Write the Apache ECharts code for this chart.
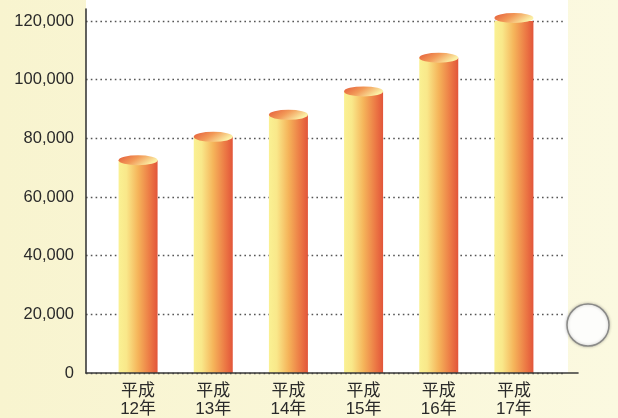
<!DOCTYPE html>
<html>
<head>
<meta charset="utf-8">
<script src="https://cdn.jsdelivr.net/npm/echarts@6/dist/echarts.min.js"></script>
<style>
html,body{margin:0;padding:0;background:#f9f6d6;}
#chart{width:618px;height:418px;}
</style>
</head>
<body>
<div id="chart"></div>
<script>
var categories = ['平成\n12年', '平成\n13年', '平成\n14年', '平成\n15年', '平成\n16年', '平成\n17年'];
var values = [72500, 80500, 88000, 96000, 107500, 121000];
var yTicks = { min: 0, max: 120000, interval: 20000 };

var chart = echarts.init(document.getElementById('chart'));
var fontLat = '"Liberation Sans", Arial, "Noto Sans CJK JP", sans-serif';
var bodyGrad = new echarts.graphic.LinearGradient(0, 0, 1, 0, [
  { offset: 0, color: '#faf193' },
  { offset: 0.2, color: '#f9e88a' },
  { offset: 0.5, color: '#f5b45a' },
  { offset: 0.8, color: '#ec7a45' },
  { offset: 1, color: '#e2553a' }
]);
var capGrad = new echarts.graphic.LinearGradient(0, 0, 1, 0.4, [
  { offset: 0, color: '#e45a3a' },
  { offset: 0.5, color: '#f29a58' },
  { offset: 1, color: '#fbf0a6' }
]);
function hiddenAxis(type, gi, extra) {
  var a = { type: type, gridIndex: gi, show: false };
  for (var k in extra) a[k] = extra[k];
  return a;
}
var option = {
  backgroundColor: new echarts.graphic.LinearGradient(0, 0, 1, 0, [
    { offset: 0, color: '#f8f4cf' },
    { offset: 1, color: '#fbf9e0' }
  ]),
  animation: false,
  grid: [
    { left: 100.5, top: 21, width: 451, height: 352 },
    { left: 86, top: 21, width: 479, height: 352 },
    { left: 86, top: 0, width: 482, height: 373, show: true, backgroundColor: '#ffffff', borderWidth: 0, z: 0 },
    { left: 86, top: 9, width: 492, height: 364 }
  ],
  xAxis: [
    {
      type: 'category', gridIndex: 0, data: categories,
      axisLine: { show: false }, axisTick: { show: false }, splitLine: { show: false },
      axisLabel: { interval: 0, fontSize: 17, lineHeight: 18, margin: 9, color: '#2a2a2a', fontFamily: fontLat }
    },
    hiddenAxis('value', 1, { min: 0, max: 1 }),
    hiddenAxis('value', 2, { min: 0, max: 1 }),
    {
      type: 'value', gridIndex: 3, min: 0, max: 1, z: 5,
      axisLine: { show: true, onZero: false, lineStyle: { color: '#3a3a3a', width: 1.6 } },
      axisTick: { show: false }, axisLabel: { show: false }, splitLine: { show: false }
    }
  ],
  yAxis: [
    hiddenAxis('value', 0, { min: yTicks.min, max: yTicks.max, interval: yTicks.interval }),
    {
      type: 'value', gridIndex: 1, min: yTicks.min, max: yTicks.max, interval: yTicks.interval, z: 3,
      axisLine: { show: false }, axisTick: { show: false },
      axisLabel: {
        fontSize: 16.5, color: '#2a2a2a', margin: 12, fontFamily: fontLat,
        formatter: function (v) { return v.toLocaleString('en-US'); }
      },
      splitLine: { show: true, lineStyle: { color: '#555', type: [1.6, 3.2], width: 1.3 } }
    },
    hiddenAxis('value', 2, { min: 0, max: 1 }),
    {
      type: 'value', gridIndex: 3, min: 0, max: 1, z: 5,
      axisLine: { show: true, onZero: false, lineStyle: { color: '#3a3a3a', width: 1.6 } },
      axisTick: { show: false }, axisLabel: { show: false }, splitLine: { show: false }
    }
  ],
  series: [
    {
      type: 'bar', xAxisIndex: 0, yAxisIndex: 0, data: values, barWidth: 39, z: 4,
      itemStyle: { color: bodyGrad }
    },
    {
      type: 'pictorialBar', xAxisIndex: 0, yAxisIndex: 0, data: values, z: 6,
      symbol: 'circle', symbolSize: [39, 10], symbolPosition: 'end', symbolOffset: [0, '-50%'],
      itemStyle: { color: capGrad }
    }
  ],
  graphic: [
    {
      type: 'circle', shape: { cx: 588, cy: 325, r: 21 }, z: 10,
      style: { fill: '#fdfdfb', stroke: '#8a8a88', lineWidth: 1.5, shadowBlur: 3, shadowColor: 'rgba(0,0,0,0.25)' }
    }
  ]
};
chart.setOption(option);
</script>
</body>
</html>
